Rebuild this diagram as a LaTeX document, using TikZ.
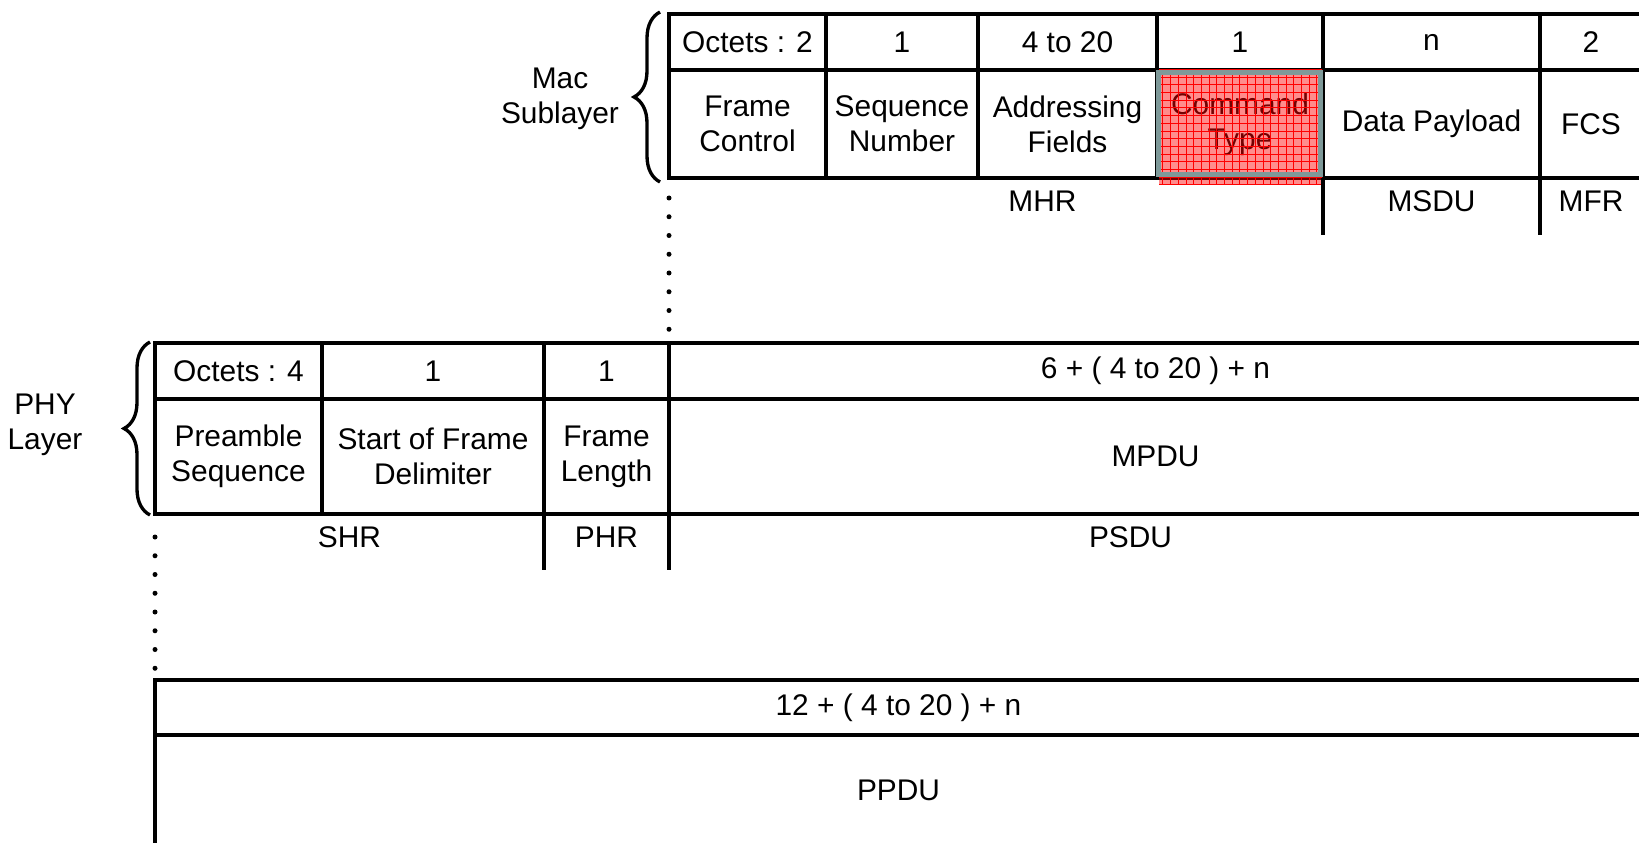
\documentclass[tikz,border=0pt]{standalone}
\usepackage{fontspec}
\setmainfont{Liberation Sans}
\usetikzlibrary{positioning,calc,decorations.pathreplacing}
\definecolor{selgray}{RGB}{126,153,153}
\tikzset{
  cell/.style={draw,rectangle,line width=1.9pt,inner sep=0pt,outer sep=0pt,align=center,font=\fontsize{17}{20}\selectfont},
  oct/.style={cell,minimum height=1.12cm},
  fld/.style={cell,minimum height=2.16cm},
  lbl/.style={align=center,font=\fontsize{17}{20}\selectfont},
  tick/.style={line width=1.9pt},
  dots/.style={line width=0.1cm,line cap=round,dash pattern=on 0pt off 0.375cm},
  brc/.style={decorate,decoration={brace,amplitude=0.52cm},line width=1.9pt}
}

\begin{document}
\begin{tikzpicture}
\useasboundingbox (0,0) rectangle (32.78,-16.86);

\node[oct,minimum width=3.14cm,anchor=north west] (moct) at (13.38,-0.28) {Octets : 2};
\node[oct,minimum width=3.04cm,right=0pt of moct] (mo2) {1};
\node[oct,minimum width=3.58cm,right=0pt of mo2] (mo3) {4 to 20};
\node[oct,minimum width=3.32cm,right=0pt of mo3] (mo4) {1};
\node[oct,minimum width=4.34cm,right=0pt of mo4] (mo5) {n};
\node[oct,minimum width=2.04cm,right=0pt of mo5] (mo6) {2};

\node[fld,minimum width=3.14cm,below=0pt of moct] (mfc) {Frame\\Control};
\node[fld,minimum width=3.04cm,right=0pt of mfc] (mseq) {Sequence\\Number};
\node[fld,minimum width=3.58cm,right=0pt of mseq] (maddr) {Addressing\\Fields};
\node[fld,minimum width=3.32cm,right=0pt of maddr] (mcmd) {Command\\Type};
\node[fld,minimum width=4.34cm,right=0pt of mcmd] (mpay) {Data Payload};
\node[fld,minimum width=2.04cm,right=0pt of mpay] (mfcs) {FCS};

\begin{scope}
\clip ($(mcmd.north west)+(0.04,0)$) rectangle ($(mcmd.south east)+(-0.02,-0.14)$);
\fill[red,opacity=0.45] ($(mcmd.north west)+(0,0.2)$) rectangle ($(mcmd.south east)+(0,-0.3)$);
\draw[red,line width=0.4pt,step=0.154cm] ($(mcmd.north west)+(0,0.2)$) grid ($(mcmd.south east)+(0,-0.3)$);
\end{scope}
\draw[selgray,line width=0.11cm] ($(mcmd.north west)+(0.03,-0.05)$) rectangle ($(mcmd.south east)+(-0.05,0.07)$);

\node[lbl,below=0.13cm of maddr,xshift=-0.5cm] (mhr) {MHR};
\node[lbl,below=0.13cm of mpay] (msdu) {MSDU};
\node[lbl,below=0.13cm of mfcs] (mfr) {MFR};
\draw[tick] (mpay.south west) -- ++(0,-1.14);
\draw[tick] (mfcs.south west) -- ++(0,-1.14);

\draw[brc] ([shift={(-0.18cm,-0.08cm)}]mfc.south west) -- ([shift={(-0.18cm,0.04cm)}]moct.north west);
\node[lbl] (maclbl) at (11.2,-1.98) {Mac\\Sublayer};

\node[oct,minimum width=3.34cm,anchor=north west] (poct) at (3.10,-6.86) {Octets : 4};
\node[oct,minimum width=4.44cm,right=0pt of poct] (po2) {1};
\node[oct,minimum width=2.5cm,right=0pt of po2] (po3) {1};
\node[oct,minimum width=19.46cm,right=0pt of po3] (po4) {6 + ( 4 to 20 ) + n};

\node[fld,minimum height=2.3cm,minimum width=3.34cm,below=0pt of poct] (pre) {Preamble\\Sequence};
\node[fld,minimum height=2.3cm,minimum width=4.44cm,right=0pt of pre] (sfd) {Start of Frame\\Delimiter};
\node[fld,minimum height=2.3cm,minimum width=2.5cm,right=0pt of sfd] (flen) {Frame\\Length};
\node[fld,minimum height=2.3cm,minimum width=19.46cm,right=0pt of flen] (mpdu) {MPDU};

\coordinate (shrmid) at ($(pre.south west)!.5!(sfd.south east)$);
\node[lbl,below=0.13cm of shrmid] (shr) {SHR};
\node[lbl,below=0.13cm of flen] (phr) {PHR};
\node[lbl,below=0.13cm of mpdu,xshift=-0.5cm] (psdu) {PSDU};
\draw[tick] (flen.south west) -- ++(0,-1.12);
\draw[tick] (mpdu.south west) -- ++(0,-1.12);

\draw[brc] ([shift={(-0.1cm,-0.02cm)}]pre.south west) -- ([shift={(-0.1cm,0.02cm)}]poct.north west);
\node[lbl] (phylbl) at (0.9,-8.5) {PHY\\Layer};

\node[oct,minimum height=1.1cm,minimum width=29.74cm,anchor=north west] (ppdh) at (3.10,-13.60) {12 + ( 4 to 20 ) + n};
\node[fld,minimum height=2.22cm,minimum width=29.74cm,below=0pt of ppdh] (ppdu) {PPDU};

\draw[dots,shorten <=0.4cm,shorten >=0.2cm] (mfc.south west) -- (po4.north west);
\draw[dots,shorten <=0.46cm,shorten >=0.2cm] (pre.south west) -- (ppdh.north west);
\end{tikzpicture}
\end{document}
